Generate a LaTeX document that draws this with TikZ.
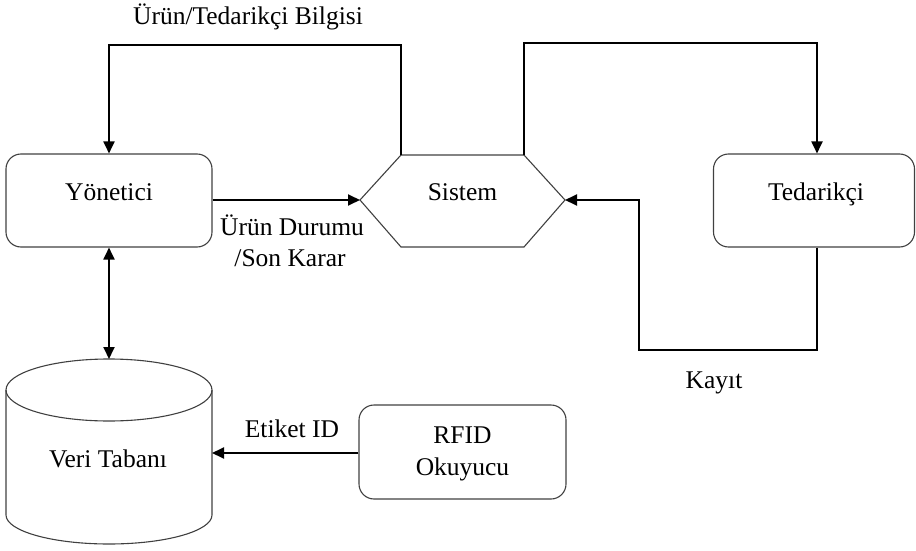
\documentclass[tikz,border=0pt]{standalone}
\usepackage{fontspec}
\setmainfont{Liberation Serif}
\usetikzlibrary{arrows.meta,calc}
\begin{document}
\begin{tikzpicture}[x=1pt,y=-1pt,
  box/.style={draw=black!75,line width=1.1pt,rounded corners=15pt,minimum width=206pt,minimum height=93pt,inner sep=0pt},
  frame/.style={inner sep=0pt,minimum width=0pt},
  outline/.style={draw=black!75,line width=1.1pt},
  lbl/.style={font=\fontsize{25.5}{28}\selectfont,anchor=base,inner sep=0pt},
  arr/.style={line width=1.9pt,-{Triangle[length=12pt,width=11pt]}},
  arrboth/.style={line width=1.9pt,{Triangle[length=12pt,width=11pt]}-{Triangle[length=12pt,width=11pt]}}]
\useasboundingbox (0,0) rectangle (916,551);

% rounded boxes
\node[box] (yon) at (109,200.5) {};
\node[box,minimum width=201pt] (ted) at (814,200.5) {};
\node[box,minimum width=207pt,minimum height=94pt] (rfid) at (462.5,452) {};

% hexagon for the system
\node[frame,minimum width=205pt,minimum height=92pt] (sis) at (462.5,201) {};
\coordinate (sisL) at (360,200);
\coordinate (sisR) at (565,200);
\coordinate (sisTL) at (401,155);
\coordinate (sisTR) at (524,155);
\draw[outline] (sisL) -- (sisTL) -- (sisTR) -- (sisR) -- (524,247) -- (401,247) -- cycle;

% database cylinder
\node[frame,minimum width=206pt,minimum height=186pt] (db) at (109,452) {};
\coordinate (dbtop) at (109,359);
\coordinate (dbright) at (212,453);
\draw[outline] (6,390) -- (6,515)
  .. controls (6,531) and (52.1,544) .. (109,544)
  .. controls (165.9,544) and (212,531) .. (212,515) -- (212,390);
\draw[outline] (109,390) ellipse[x radius=103,y radius=31];

% node texts
\node[lbl] at (109,200) {Yönetici};
\node[lbl] at (462.5,200) {Sistem};
\node[lbl] at (816,200) {Tedarikçi};
\node[lbl] at (108,467) {Veri Tabanı};
\node[lbl] at (462.5,443) {RFID};
\node[lbl] at (462.5,475) {Okuyucu};

% connectors
\coordinate (topA) at (0,45);
\coordinate (topB) at (0,43);
\coordinate (kink) at (639,350);
\draw[arr] (sisTL) -- (sisTL |- topA) -| (yon.north);
\draw[arr] (sisTR) -- (sisTR |- topB) -| ([xshift=3pt]ted.north);
\draw[arr] (yon.east |- sisL) -- (sisL);
\draw[arr] ([xshift=3pt]ted.south) |- (kink) |- (sisR);
\draw[arrboth] (yon.south) -- (dbtop);
\draw[arr] (rfid.west |- dbright) -- (dbright);

% connector labels
\node[lbl] at (248,25) {Ürün/Tedarikçi Bilgisi};
\node[lbl] at (292,235) {Ürün Durumu};
\node[lbl] at (290,266) {/Son Karar};
\node[lbl] at (714,388) {Kayıt};
\node[lbl] at (292,437) {Etiket ID};
\end{tikzpicture}
\end{document}
